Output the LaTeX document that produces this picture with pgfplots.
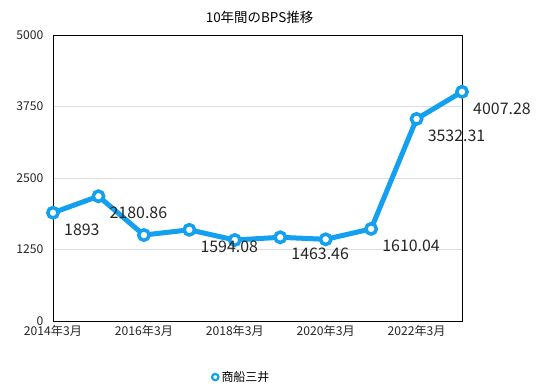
\documentclass[border=0pt]{standalone}
\usepackage{pgfplots}
\pgfplotsset{compat=1.18}
\usepackage{fontspec}
\setmainfont{Noto Sans CJK JP}
\definecolor{bpsblue}{RGB}{20,160,240}
\definecolor{gridgray}{RGB}{220,220,220}
\begin{document}
\begin{tikzpicture}[x=1bp,y=1bp]
\useasboundingbox (0,0) rectangle (538,389);
\begin{axis}[
  at={(53bp,68bp)}, anchor=south west,
  scale only axis, width=409bp, height=286bp,
  xmin=0, xmax=9, ymin=0, ymax=5000,
  xtick={0,2,4,6,8},
  xticklabels={2014年3月,2016年3月,2018年3月,2020年3月,2022年3月},
  ytick={0,1250,2500,3750,5000},
  /pgf/number format/fixed,
  /pgf/number format/1000 sep={},
  /pgf/number format/assume math mode=true,
  scaled y ticks=false,
  tick label style={font=\fontsize{12.2}{14}\selectfont, text=black!85},
  yticklabel style={xshift=-6bp},
  xticklabel style={yshift=-1bp},
  major tick length=0pt,
  ymajorgrids, grid style={gridgray, line width=0.8bp},
  axis line style={black, line width=0.9bp},
  title={10年間のBPS推移},
  title style={font=\fontsize{13.5}{15}\selectfont, yshift=2bp, xshift=2bp},
  legend style={at={(0.46,-0.196)}, anchor=center, draw=none, font=\fontsize{12}{14}\selectfont, /tikz/every even column/.append style={column sep=4bp}},
  legend image code/.code={\draw[bpsblue, line width=2.2bp, fill=white] (-5bp,0bp) circle (3.2bp);},
  clip=false,
]
\addplot[bpsblue, line width=5bp, mark=*, mark size=5.2bp,
  mark options={fill=white, draw=bpsblue, line width=3.5bp}]
  coordinates {(0,1893) (1,2180.86) (2,1503) (3,1594.08) (4,1416) (5,1463.46) (6,1428) (7,1610.04) (8,3532.31) (9,4007.28)};
\addlegendentry{商船三井}
\addplot[draw=none, mark=none, forget plot,
  nodes near coords, point meta=explicit symbolic,
  every node near coord/.append style={anchor=west, inner sep=0pt, xshift=11bp, yshift=-17bp, font=\fontsize{16}{18}\selectfont, text=black!85}]
  coordinates {(0,1893)[1893] (1,2180.86)[2180.86] (3,1594.08)[1594.08] (5,1463.46)[1463.46] (7,1610.04)[1610.04] (8,3532.31)[3532.31] (9,4007.28)[4007.28]};
\end{axis}
\end{tikzpicture}
\end{document}
